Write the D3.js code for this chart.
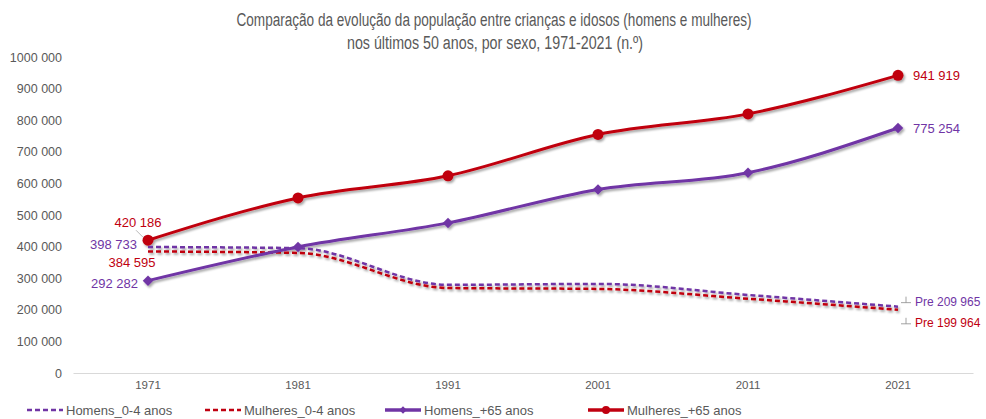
<!DOCTYPE html>
<html>
<head>
<meta charset="utf-8">
<script src="https://cdn.jsdelivr.net/npm/d3@7"></script>
<style>
  body { margin: 0; background: #fff; }
  svg { font-family: "Liberation Sans", Arial, sans-serif; }
</style>
</head>
<body>
<svg id="chart" width="986" height="419"></svg>
<script>
'use strict';

var years = ['1971', '1981', '1991', '2001', '2011', '2021'];
var homens04 = [398733, 395000, 279000, 282000, 247000, 209965];
var mulheres04 = [384595, 380000, 269000, 266000, 235000, 199964];
var homens65 = [292282, 399000, 475000, 581000, 634000, 775254];
var mulheres65 = [420186, 554000, 624000, 755000, 820000, 941919];
var yTicks = [0, 100000, 200000, 300000, 400000, 500000, 600000, 700000, 800000, 900000, 1000000];

var PURPLE = '#7035a5';
var RED = '#c00010';
var GREY = '#595959';

var series = [
  { name: 'Homens_0-4 anos', values: homens04, color: PURPLE, dash: '5,3', width: 2.5 },
  { name: 'Mulheres_0-4 anos', values: mulheres04, color: RED, dash: '5,3', width: 2.5 },
  { name: 'Homens_+65 anos', values: homens65, color: PURPLE, marker: 'diamond', width: 3 },
  { name: 'Mulheres_+65 anos', values: mulheres65, color: RED, marker: 'circle', width: 3 }
];

// "1000 000" style, like the source spreadsheet
function fmt(v) {
  if (v < 1000) { return String(v); }
  var r = String(v % 1000);
  while (r.length < 3) { r = '0' + r; }
  return Math.floor(v / 1000) + ' ' + r;
}

var svg = d3.select('#chart');

var defs = svg.append('defs');
var f = defs.append('filter').attr('id', 'shadow')
  .attr('x', '-10%').attr('y', '-10%').attr('width', '130%').attr('height', '130%');
f.append('feDropShadow')
  .attr('dx', 1.5).attr('dy', 2).attr('stdDeviation', 1.3)
  .attr('flood-color', '#000').attr('flood-opacity', 0.35);

var x = d3.scaleBand().domain(years).range([73, 973]);
var y = d3.scaleLinear().domain([0, 1000000]).range([373, 57]);

// title
var title = svg.append('text')
  .attr('text-anchor', 'middle')
  .attr('fill', GREY)
  .attr('font-family', '"Liberation Sans Narrow", "Liberation Sans", Arial, sans-serif')
  .attr('font-size', 18);
title.append('tspan').attr('x', 494).attr('y', 26)
  .attr('textLength', 515).attr('lengthAdjust', 'spacingAndGlyphs')
  .text('Comparação da evolução da população entre crianças e idosos (homens e mulheres)');
title.append('tspan').attr('x', 495).attr('y', 49)
  .attr('textLength', 296).attr('lengthAdjust', 'spacingAndGlyphs')
  .text('nos últimos 50 anos, por sexo, 1971-2021 (n.º)');

// y axis (labels only)
var yAxis = svg.append('g')
  .attr('transform', 'translate(62,0)')
  .call(d3.axisLeft(y).tickValues(yTicks).tickFormat(fmt).tickSize(0).tickPadding(0));
yAxis.select('.domain').remove();
yAxis.selectAll('text').attr('fill', GREY).attr('font-size', 12.5)
  .attr('font-family', '"Liberation Sans", Arial, sans-serif');

// x axis
var xAxis = svg.append('g')
  .attr('transform', 'translate(0,373)')
  .call(d3.axisBottom(x).tickSize(0).tickPadding(8));
xAxis.select('.domain').attr('stroke', '#d9d9d9').attr('stroke-width', 1);
xAxis.selectAll('text').attr('fill', GREY).attr('font-size', 11.5)
  .attr('font-family', '"Liberation Sans", Arial, sans-serif');

var cx = function (d, i) { return x(years[i]) + x.bandwidth() / 2; };
var line = d3.line()
  .x(cx)
  .y(function (d) { return y(d); })
  .curve(d3.curveMonotoneX);

var plot = svg.append('g').attr('filter', 'url(#shadow)');

series.forEach(function (s) {
  plot.append('path')
    .attr('d', line(s.values))
    .attr('fill', 'none')
    .attr('stroke', s.color)
    .attr('stroke-width', s.width)
    .attr('stroke-dasharray', s.dash || null);

  if (s.marker === 'circle') {
    plot.selectAll(null).data(s.values).enter().append('circle')
      .attr('cx', cx)
      .attr('cy', function (d) { return y(d); })
      .attr('r', 5.5)
      .attr('fill', s.color);
  } else if (s.marker === 'diamond') {
    plot.selectAll(null).data(s.values).enter().append('path')
      .attr('d', d3.symbol(d3.symbolDiamond2, 70))
      .attr('transform', function (d, i) {
        return 'translate(' + cx(d, i) + ',' + y(d) + ')';
      })
      .attr('fill', s.color);
  }
});

// data labels: [series index, point index, dx, dy, anchor, prefix, size]
var labelPos = [
  [3, 0, -10, -13, 'middle', '', 13],
  [0, 0, -11, 2, 'end', '', 13],
  [1, 0, -16, 16, 'middle', '', 13],
  [2, 0, -10, 7, 'end', '', 13],
  [3, 5, 15, 5, 'start', '', 13],
  [2, 5, 15, 5, 'start', '', 13],
  [0, 5, 17, -1, 'start', 'Pre ', 12],
  [1, 5, 17, 17, 'start', 'Pre ', 12]
];

var labels = svg.append('g');
labelPos.forEach(function (p) {
  var s = series[p[0]];
  var v = s.values[p[1]];
  labels.append('text')
    .attr('x', cx(v, p[1]) + p[2])
    .attr('y', y(v) + p[3])
    .attr('text-anchor', p[4])
    .attr('font-size', p[6])
    .attr('fill', s.color)
    .text(p[5] + fmt(v));
  if (p[5]) {
    // little leader marks next to the "Pre" labels
    var lx = cx(v, p[1]) + p[2] - 14;
    var ly = y(v) + p[3] - 3;
    labels.append('path')
      .attr('d', 'M' + lx + ',' + ly + 'h10M' + (lx + 5) + ',' + ly + 'v-6')
      .attr('stroke', '#8c8c8c').attr('stroke-width', 0.8).attr('fill', 'none');
  }
});
// leader line for the first women +65 label
labels.append('line')
  .attr('x1', cx(0, 0) - 12).attr('y1', y(mulheres65[0]) - 10)
  .attr('x2', cx(0, 0) - 5).attr('y2', y(mulheres65[0]) - 3)
  .attr('stroke', '#a6a6a6').attr('stroke-width', 0.8);

// legend
var legendX = [27, 205, 385, 588];
var legend = svg.append('g').attr('transform', 'translate(0,410)');
series.forEach(function (s, i) {
  var g = legend.append('g').attr('transform', 'translate(' + legendX[i] + ',0)');
  g.append('line')
    .attr('x1', 0).attr('x2', 36).attr('y1', 0).attr('y2', 0)
    .attr('stroke', s.color)
    .attr('stroke-width', s.dash ? 2.5 : 3.5)
    .attr('stroke-dasharray', s.dash ? '5,3' : null);
  if (s.marker === 'circle') {
    g.append('circle').attr('cx', 18).attr('cy', 0).attr('r', 4).attr('fill', s.color);
  } else if (s.marker === 'diamond') {
    g.append('path').attr('d', d3.symbol(d3.symbolDiamond2, 36))
      .attr('transform', 'translate(18,0)').attr('fill', s.color);
  }
  g.append('text').attr('x', 39).attr('y', 4.5)
    .attr('font-size', 13).attr('fill', GREY)
    .text(s.name);
});
</script>
</body>
</html>
